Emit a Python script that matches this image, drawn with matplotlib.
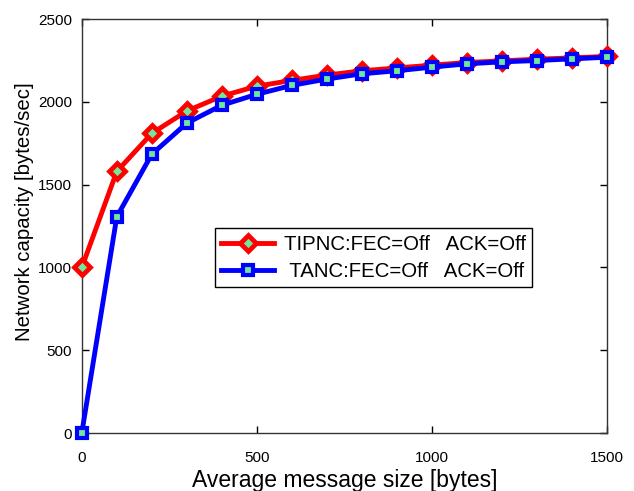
import matplotlib
matplotlib.use('Agg')
import matplotlib.pyplot as plt

plt.rcParams['font.family'] = ['Liberation Sans', 'DejaVu Sans']

# message size (bytes)
msg_size = [0, 100, 200, 300, 400, 500, 600, 700, 800, 900, 1000, 1100, 1200, 1300, 1400, 1500]
# network capacity (bytes/sec)
tipnc = [1000, 1580, 1810, 1945, 2035, 2095, 2130, 2162, 2188, 2205, 2222, 2238, 2248, 2258, 2266, 2275]
tanc = [0, 1306, 1684, 1872, 1980, 2046, 2100, 2138, 2170, 2188, 2210, 2230, 2242, 2250, 2260, 2270]

fig = plt.figure(figsize=(6.34, 4.91), dpi=100)
ax = fig.add_axes([0.129, 0.118, 0.828, 0.843])

ax.plot(msg_size, tipnc, color='red', linewidth=3.5, marker='D', markersize=8.5,
        markerfacecolor='#6fe89a', markeredgecolor='red', markeredgewidth=3.4,
        label='TIPNC:FEC=Off   ACK=Off', clip_on=False, zorder=3)
ax.plot(msg_size, tanc, color='blue', linewidth=3.5, marker='s', markersize=6.8,
        markerfacecolor='#6fe89a', markeredgecolor='blue', markeredgewidth=3,
        label=' TANC:FEC=Off   ACK=Off', clip_on=False, zorder=4)

ax.set_xlim(0, 1500)
ax.set_ylim(0, 2500)
ax.set_xticks([0, 500, 1000, 1500])
ax.set_yticks([0, 500, 1000, 1500, 2000, 2500])
ax.tick_params(direction='in', top=True, right=True, labelsize=11, length=5, width=1)
ax.tick_params(axis='x', pad=13)
ax.tick_params(axis='y', pad=7)
for s in ax.spines.values():
    s.set_linewidth(1)
    s.set_color('#333333')

ax.set_xlabel('Average message size [bytes]', fontsize=16.5)
ax.set_ylabel('Network capacity [bytes/sec]', fontsize=14.7)
ax.xaxis.set_label_coords(0.5, -0.086)
ax.yaxis.set_label_coords(-0.091, 0.534)

leg = ax.legend(loc='upper left', bbox_to_anchor=(0.253, 0.495), borderaxespad=0,
                fontsize=14.7, fancybox=False, edgecolor='black', framealpha=1,
                handlelength=2.6, handletextpad=0.45, borderpad=0.33,
                labelspacing=0.38)
leg.get_frame().set_linewidth(1)

fig.savefig('out.png', dpi=100)
